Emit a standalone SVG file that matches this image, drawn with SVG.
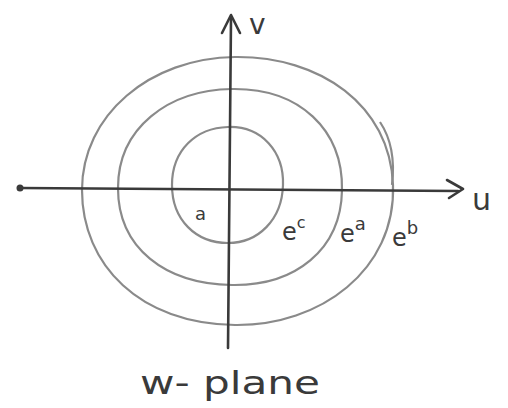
<svg xmlns="http://www.w3.org/2000/svg" width="508" height="408" viewBox="0 0 508 408">
<style>
.c{fill:none;stroke:#8a8a8a;stroke-width:2.2}
.ax{fill:none;stroke:#3a3a3a;stroke-width:2.6;stroke-linecap:round;stroke-linejoin:round}
.t{font-family:"DejaVu Sans","Liberation Sans",sans-serif;fill:#3a3a3a}
</style>
<rect width="508" height="408" fill="#fff"/>
<g id="contours">
<path id="inner" class="c" d="M228,127 C262,126 284,152 283,185 C282,220 258,243 228,243 C196,243 172,220 172,185 C172,150 196,128 228,127 Z"/>
<path id="middle" class="c" d="M232,89 C300,88 343,130 342,190 C341,250 295,286 232,285 C165,284 118,248 118,188 C118,128 168,90 232,89 Z"/>
<path id="outer" class="c" d="M235,57 C320,56 390,105 393,185 C396,270 320,326 235,325 C140,324 82,265 82,190 C82,115 150,58 235,57 Z"/>
<path class="c" d="M380,122 C392,140 395,160 392,185" stroke-width="1.5"/>
</g>
<g id="axes">
<line class="ax" x1="20" y1="188" x2="458" y2="191"/>
<circle cx="20" cy="188" r="3.5" fill="#3a3a3a"/>
<polyline class="ax" points="447,180 463,189 449,198"/>
<line class="ax" x1="231" y1="18" x2="228" y2="348"/>
<polyline class="ax" points="222,33 231,15 240,33"/>
</g>
<g id="labels">
<text class="t" x="249" y="34" font-size="28">v</text>
<text class="t" x="472" y="210" font-size="30">u</text>
<text class="t" x="195" y="220" font-size="18">a</text>
<text class="t" x="282" y="240" font-size="24">e<tspan font-size="16" dy="-12">c</tspan></text>
<text class="t" x="340" y="242" font-size="24">e<tspan font-size="18" dy="-12">a</tspan></text>
<text class="t" x="392" y="246" font-size="24">e<tspan font-size="18" dy="-12">b</tspan></text>
<text class="t" x="140" y="394" font-size="32" textLength="180" lengthAdjust="spacingAndGlyphs">w- plane</text>
</g>
</svg>
